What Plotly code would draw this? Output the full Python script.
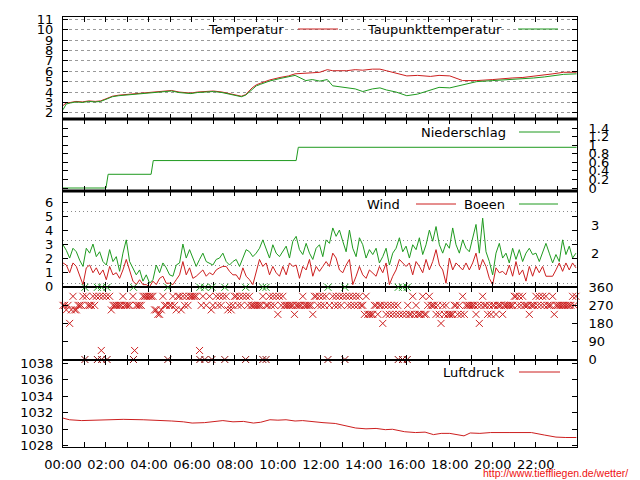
import plotly.graph_objects as go

RED = "#cc1f1f"
GREEN = "#1f9a1f"
FONT = "DejaVu Sans"

# ---------------- data ----------------
temp_hours = [0.0, 0.15, 0.35, 0.6, 0.9, 1.2, 1.5, 1.75, 2.0, 2.3, 2.6, 2.9, 3.3, 3.8, 4.1, 4.4,
              4.7, 5.05, 5.4, 5.7, 5.95, 6.25, 6.55, 7.0, 7.4, 7.8, 8.1, 8.3, 8.5, 8.8, 9.0, 9.2,
              9.6, 10.1, 10.5, 10.8, 11.3, 11.6, 11.95, 12.3, 12.55, 13.2, 13.6, 13.95, 14.4,
              14.75, 15.05, 15.5, 16.0, 16.5, 17.1, 17.5, 18.0, 18.6, 19.25, 20.0, 20.5, 20.9,
              21.4, 21.9, 22.4, 22.8, 23.3, 23.9]
temperatur = [2.7, 2.95, 3.0, 3.1, 3.05, 3.15, 3.1, 3.15, 3.35, 3.6, 3.7, 3.75, 3.8, 3.9, 3.95, 4.05,
              4.1, 4.15, 4.0, 3.95, 3.9, 4.0, 4.05, 4.1, 4.0, 3.85, 3.7, 3.6, 3.75, 4.4, 4.7, 4.85,
              5.15, 5.4, 5.55, 5.75, 5.85, 5.85, 5.9, 6.15, 6.05, 6.05, 6.15, 6.1, 6.2,
              6.2, 6.05, 5.8, 5.55, 5.6, 5.5, 5.6, 5.55, 5.1, 5.1, 5.2, 5.3, 5.35,
              5.4, 5.5, 5.6, 5.75, 5.9, 5.9]
taupunkt = [2.3, 2.85, 2.95, 3.05, 3.0, 3.1, 3.05, 3.1, 3.3, 3.55, 3.65, 3.7, 3.75, 3.85, 3.9, 4.0,
            4.05, 4.1, 3.95, 3.9, 3.85, 3.95, 4.0, 4.05, 3.95, 3.8, 3.65, 3.55, 3.7, 4.3, 4.6, 4.75,
            5.05, 5.3, 5.45, 5.6, 5.1, 5.2, 5.05, 5.2, 4.6, 4.45, 4.3, 4.05, 4.3,
            4.4, 4.2, 4.0, 3.65, 3.8, 4.15, 4.45, 4.4, 4.7, 5.0, 5.1, 5.15, 5.2,
            5.3, 5.35, 5.45, 5.55, 5.7, 5.75]

rain_hours = [0.0, 2.0, 2.1, 4.1, 4.2, 10.85, 10.95, 23.9]
niederschlag = [0.0, 0.0, 0.32, 0.32, 0.64, 0.64, 0.95, 0.95]

SAMPLE_H = 0.155  # hours between wind samples
wind = [1.7, 1.55, 1.0, 1.7, 1.45, 0.85, 0.15, 1.35, 1.55, 1.0, 1.35, 0.85, 1.2, 0.5, 1.45, 0.85,
        1.0, 0.6, 1.2, 1.95, 1.2, 0.4, 0.15, 0.5, 0.15, 0.15, 0.0, 0.4, 0.15, 0.6, 0.75, 0.25,
        0.25, 0.15, 0.5, 0.85, 1.8, 0.85, 1.35, 0.6, 0.75, 1.0, 1.2, 0.75, 1.0, 0.85, 1.2, 1.35,
        1.45, 1.45, 1.1, 0.85,
        0.85, 0.5, 1.35, 0.75, 0.5, 0.15, 1.1, 1.95, 1.45, 1.7, 0.85, 1.45, 1.0, 0.75, 1.45, 0.85,
        1.7, 1.45, 1.55, 0.6, 1.45, 1.2, 1.95, 0.75, 1.45, 1.1, 1.45, 1.8, 1.45, 2.4, 2.05, 1.2,
        1.0, 1.55, 1.95, 0.15, 0.75, 1.45, 0.85, 0.6, 1.2, 1.0, 0.75, 1.45, 1.0, 1.7, 0.15, 0.75,
        1.2, 1.95, 1.7, 1.45,
        1.7, 0.85, 1.8, 1.45, 1.0, 1.95, 1.2, 1.8, 2.65, 1.55, 1.2, 0.25, 2.05, 1.2, 1.7, 1.45,
        1.2, 1.7, 1.2, 1.7, 2.4, 1.2, 1.95, 1.45, 0.6, 0.15, 1.35, 1.0, 1.1, 0.85, 1.55, 0.75,
        1.8, 0.85, 1.2, 0.4, 1.45, 0.75, 1.45, 1.0, 1.45, 0.75, 0.75, 0.75, 1.2, 1.7, 1.1, 1.7,
        1.2, 1.7, 1.35]
boeen = [3.0, 2.6, 2.05, 2.75, 2.5, 1.9, 1.45, 2.75, 2.4, 3.05, 2.15, 2.5, 1.8, 1.55, 2.65, 1.8,
         2.15, 1.1, 2.4, 3.35, 1.8, 1.35, 0.85, 1.2, 0.4, 0.85, 0.25, 0.5, 1.55, 1.0, 1.7, 1.35,
         0.85, 0.75, 1.55, 1.7, 3.05, 2.05, 2.65, 2.05, 1.45, 1.95, 2.4, 1.8, 1.7, 1.55, 1.95, 2.05,
         2.4, 1.8, 1.55, 1.8,
         1.95, 1.45, 2.05, 2.65, 2.5, 2.15, 2.4, 2.75, 3.35, 2.65, 2.05, 3.0, 2.4, 2.15, 2.5, 2.9,
         2.05, 3.25, 3.6, 2.65, 2.3, 3.1, 2.4, 1.95, 2.75, 3.0, 2.15, 3.35, 3.1, 4.2, 3.6, 4.05,
         3.25, 2.5, 4.05, 2.75, 2.15, 3.5, 3.0, 2.05, 2.65, 2.3, 2.75, 1.7, 2.15, 2.75, 1.55, 2.4,
         2.75, 3.5, 2.5, 2.9,
         2.05, 3.0, 2.65, 3.5, 2.3, 3.0, 4.05, 3.25, 4.3, 3.0, 2.4, 3.1, 2.75, 4.2, 3.0, 2.4,
         3.35, 2.75, 2.5, 3.5, 4.45, 2.4, 4.9, 2.5, 1.8, 0.85, 2.4, 3.1, 2.05, 2.4, 1.7, 2.75,
         1.95, 2.65, 1.8, 2.4, 2.75, 2.3, 2.4, 1.8, 2.5, 3.1, 2.4, 1.7, 2.3, 1.8, 3.35, 2.3,
         2.9, 2.05, 2.4]

# wind direction, two readings per wind sample (degrees)
wind_dir = [270, 270, 247.5, 270, 180, 247.5, 315, 247.5, 247.5, 270, 270, 270, 315, None, 315, 270,
            270, 270, 315, 270, 315, None, 315, 45, 315, None, 315, None, 315, 247.5, 270, 270,
            270, 270, 270, 270, 315, 270, 270, 270, 270, None, 315, 45, 270, 270, 270, 270,
            315, 315, 315, 315, 315, 315, 315, 247.5, 247.5, 225, 225, 247.5, 315, 270, 270, None,
            270, 270, 315, 270, 247.5, 315, 315, 247.5, 315, 270, 315, 270, 315, 315, 315, 315,
            315, None, 45, 270, 315, None, 270, None, 315, 247.5, 270, None, 315, 270, 315, 270,
            315, None, 315, 247.5, 270, 247.5, 270, 315,
            315, 270, 315, 270, 315, None, 315, 270, 315, 270, 270, 270, 270, 270, 270, 270,
            315, None, 270, 270, 315, 270, 315, 270, 315, 225, 315, 270, 315, 270, 270, 270,
            270, 270, 270, 225, 270, 270, 270, 270, 315, 270, 270, 270, 270, 270, 225, 315,
            315, 270, 315, 270, 315, 270, 315, None, 270, None, 315, 270, 315, 270, 315, 270,
            315, None, 315, 270, 315, 270, 315, 270, 315, 270, 315, 270, 270, 225, 315, 225,
            225, 225, 225, 270, 270, 225, 270, 270, 180, 270, 225, 270, 225, 270, 225, 270,
            225, 270, 225, None, 225, None, 225, 270,
            225, 225, 315, 225, 270, 225, 225, 225, 315, 225, 225, 270, 315, 270, 270, 270,
            225, 270, 225, 180, 270, 225, 270, 225, 225, 225, 225, 270, 270, 225, 270, 225,
            315, 225, 270, 270, 270, 270, 270, 270, 225, 270, 180, 270, 315, 270, 270, 225,
            270, 225, 270, 270, 225, 270, 270, 270, 225, 270, 270, 270, 270, 270, 270, 315,
            315, 270, 315, 270, 315, 270, 270, 270, 225, 270, 270, 270, 315, 270, 315, 270,
            315, 270, 315, 270, 270, 270, 315, 225, 270, 270, 270, 270, 270, 270, 270, 270,
            270, 270, 315, 270, 315, 270]
north_hours = [1.02, 1.6, 1.8, 2.05, 3.28, 4.88, 6.37, 6.6, 6.93, 7.53, 8.5, 9.3, 9.45,
               12.33, 13.12, 15.6, 15.8, 16.02]

pres_hours = [0, 0.3, 0.87, 1.5, 2.0, 2.8, 3.73, 4.4, 5.06, 5.6, 6.01, 6.58, 7.0, 7.44, 7.91, 8.4,
              8.86, 9.2, 9.63, 10.0, 10.38, 10.8, 11.15, 11.6, 12.1, 12.67, 13.05, 13.62, 14.1,
              14.57, 15.0, 15.33, 15.9, 16.4, 16.85, 17.24, 17.6, 18.0, 18.66, 18.95, 19.4, 19.9,
              20.8, 21.8, 22.4, 22.94, 23.4, 23.89]
luftdruck = [1031.35, 1031.15, 1031.05, 1031.1, 1031.15, 1031.2, 1031.15, 1031.1, 1031.0, 1030.9,
             1030.75, 1030.8, 1030.9, 1031.05, 1030.9, 1030.95, 1030.75, 1030.85, 1031.15, 1031.1,
             1031.15, 1031.0, 1031.05, 1030.9, 1030.8, 1030.7, 1030.45, 1030.15, 1030.05, 1030.1,
             1029.95, 1030.0, 1029.7, 1029.6, 1029.65, 1029.35, 1029.5, 1029.5, 1029.2, 1029.55,
             1029.5, 1029.6, 1029.6, 1029.6, 1029.3, 1029.05, 1029.0, 1029.0]

hour_ticks = list(range(24))
hour_labels = ["%02d:00" % h if h % 2 == 0 else "" for h in hour_ticks]
beaufort_limits = [0.2, 1.5, 3.3, 5.4]
beaufort_label_pos = [2.35, 4.35]
beaufort_labels = ["2", "3"]

wind_hours = [i * SAMPLE_H for i in range(len(wind))]
dir_hours = [i * SAMPLE_H / 2 for i in range(len(wind_dir))]

# ---------------- layout geometry (page pixels; the page body has an 8px margin) ----------------
OFF = 8
W, H = 640 - OFF, 480 - OFF
PL, PR, PT, PB = 63, 577, 17, 447          # plot area in page pixels
PW, PH = PR - PL, PB - PT
XMAX = 23.92


def py(ypix):
    return (PB - ypix) / PH


def px(xpix):
    return (xpix - PL) / PW


bounds = [17, 119, 191, 287.3, 359.5, 447]
dom = [[max(0, py(bounds[k + 1])), min(1, py(bounds[k]))] for k in range(5)]

fig = go.Figure()
fig.add_trace(go.Scatter(x=temp_hours, y=temperatur, mode="lines", line=dict(color=RED, width=1),
                         xaxis="x", yaxis="y"))
fig.add_trace(go.Scatter(x=temp_hours, y=taupunkt, mode="lines", line=dict(color=GREEN, width=1),
                         xaxis="x", yaxis="y"))
fig.add_trace(go.Scatter(x=rain_hours, y=niederschlag, mode="lines", line=dict(color=GREEN, width=1),
                         xaxis="x2", yaxis="y2"))
fig.add_trace(go.Scatter(x=wind_hours, y=wind, mode="lines", line=dict(color=RED, width=1),
                         xaxis="x3", yaxis="y3"))
fig.add_trace(go.Scatter(x=wind_hours, y=boeen, mode="lines", line=dict(color=GREEN, width=1),
                         xaxis="x3", yaxis="y3"))
xmark = dict(symbol="x-thin", size=7, line=dict(width=1, color=RED))
fig.add_trace(go.Scatter(x=dir_hours, y=wind_dir, mode="markers", marker=xmark,
                         xaxis="x4", yaxis="y4", cliponaxis=False))
fig.add_trace(go.Scatter(x=north_hours, y=[0] * len(north_hours), mode="markers",
                         marker=dict(symbol="x-thin", size=7, line=dict(width=1, color="#8a1010")),
                         xaxis="x4", yaxis="y4", cliponaxis=False))
fig.add_trace(go.Scatter(x=north_hours, y=[360] * len(north_hours), mode="markers",
                         marker=dict(symbol="x-thin", size=7, line=dict(width=1, color=GREEN)),
                         xaxis="x4", yaxis="y4", cliponaxis=False))
fig.add_trace(go.Scatter(x=pres_hours, y=luftdruck, mode="lines", line=dict(color=RED, width=1),
                         xaxis="x5", yaxis="y5"))

tickfont = dict(family=FONT, size=13, color="black")
common_x = dict(range=[0, XMAX], tickvals=hour_ticks, ticks="inside", ticklen=5, tickcolor="black",
                showline=True, linecolor="black", linewidth=1, mirror="ticks", showgrid=False,
                zeroline=False, domain=[0, 1], automargin=False)
common_y = dict(ticks="inside", ticklen=5, tickcolor="black", showline=True, linecolor="black",
                linewidth=1, mirror="ticks", zeroline=False, tickfont=tickfont,
                ticklabelstandoff=6, automargin=False)

lay = dict(template="none", width=W, height=H,
           margin=dict(l=PL - OFF, r=W - (PR - OFF), t=PT - OFF, b=H - (PB - OFF), autoexpand=False),
           paper_bgcolor="white", plot_bgcolor="white", showlegend=False,
           font=dict(family=FONT, size=13, color="black"))

lay["xaxis"] = dict(common_x, anchor="y", showticklabels=False)
lay["xaxis2"] = dict(common_x, anchor="y2", showticklabels=False, matches="x")
lay["xaxis3"] = dict(common_x, anchor="y3", showticklabels=False, matches="x")
lay["xaxis4"] = dict(common_x, anchor="y4", showticklabels=False, matches="x")
lay["xaxis5"] = dict(common_x, anchor="y5", showticklabels=True, ticktext=hour_labels,
                     tickfont=tickfont, ticklabelstandoff=5, matches="x")

lay["yaxis"] = dict(common_y, domain=dom[0], anchor="x", range=[1.41, 11.21],
                    tickvals=list(range(2, 12)), showgrid=True, gridcolor="#9a9a9a",
                    griddash="3px,3px", gridwidth=1)
rain_ticks = [0, 0.2, 0.4, 0.6, 0.8, 1.0, 1.2, 1.4]
lay["yaxis2"] = dict(common_y, domain=dom[1], anchor="x2", side="right", range=[-0.07, 1.61],
                     tickvals=rain_ticks, ticktext=["0", "0.2", "0.4", "0.6", "0.8", "1", "1.2", "1.4"],
                     showgrid=False, ticklabelstandoff=8)
wind_range = [-0.04, 6.84]
lay["yaxis3"] = dict(common_y, domain=dom[2], anchor="x3", range=wind_range,
                     tickvals=list(range(0, 7)), showgrid=False,
                     minor=dict(tickvals=beaufort_limits, ticks="", showgrid=True,
                                gridcolor="#8a8a8a", griddash="1px,3px", gridwidth=1))
lay["yaxis4"] = dict(common_y, domain=dom[3], anchor="x4", side="right", range=[0, 360],
                     tickvals=[0, 90, 180, 270, 360], showgrid=False, ticklabelstandoff=8)
lay["yaxis5"] = dict(common_y, domain=dom[4], anchor="x5", range=[1027.85, 1038.45],
                     tickvals=[1028, 1030, 1032, 1034, 1036, 1038], showgrid=False)
fig.update_layout(**lay)

# thick separators between panels
shapes = []
for yp in (119, 191):
    shapes.append(dict(type="line", xref="paper", yref="paper", x0=0, x1=1, y0=py(yp), y1=py(yp),
                       line=dict(color="black", width=3)))

annotations = []
# Beaufort labels on the right of the wind panel
for pos, lab in zip(beaufort_label_pos, beaufort_labels):
    annotations.append(dict(text=lab, xref="paper", yref="y3", x=px(589), y=pos,
                            xanchor="left", yanchor="middle", showarrow=False,
                            font=tickfont))

# key entries: (text, right edge px, y px, colour, sample x0, sample x1)
keys = [("Temperatur", 286, 29, RED, 298, 338),
        ("Taupunkttemperatur", 504, 29, GREEN, 518, 558),
        ("Niederschlag", 508, 132, GREEN, 519, 560),
        ("Wind", 402, 204, RED, 416, 456),
        ("Boeen", 507, 204, GREEN, 519, 558),
        ("Luftdruck", 507, 372, RED, 519, 560)]
for text, xr, yc, col, s0, s1 in keys:
    annotations.append(dict(text=text, xref="paper", yref="paper", x=px(xr), y=py(yc),
                            xanchor="right", yanchor="middle", showarrow=False,
                            font=dict(family=FONT, size=13, color="black")))
    shapes.append(dict(type="line", xref="paper", yref="paper", x0=px(s0), x1=px(s1),
                       y0=py(yc), y1=py(yc), line=dict(color=col, width=1)))

annotations.append(dict(text="http://www.tieffliegen.de/wetter/", xref="paper", yref="paper",
                        x=px(630), y=py(473), xanchor="right", yanchor="middle", showarrow=False,
                        font=dict(family="Liberation Sans", size=10.5, color="#ee1111")))
fig.update_layout(shapes=shapes, annotations=annotations)

fig.write_html("out.html")
